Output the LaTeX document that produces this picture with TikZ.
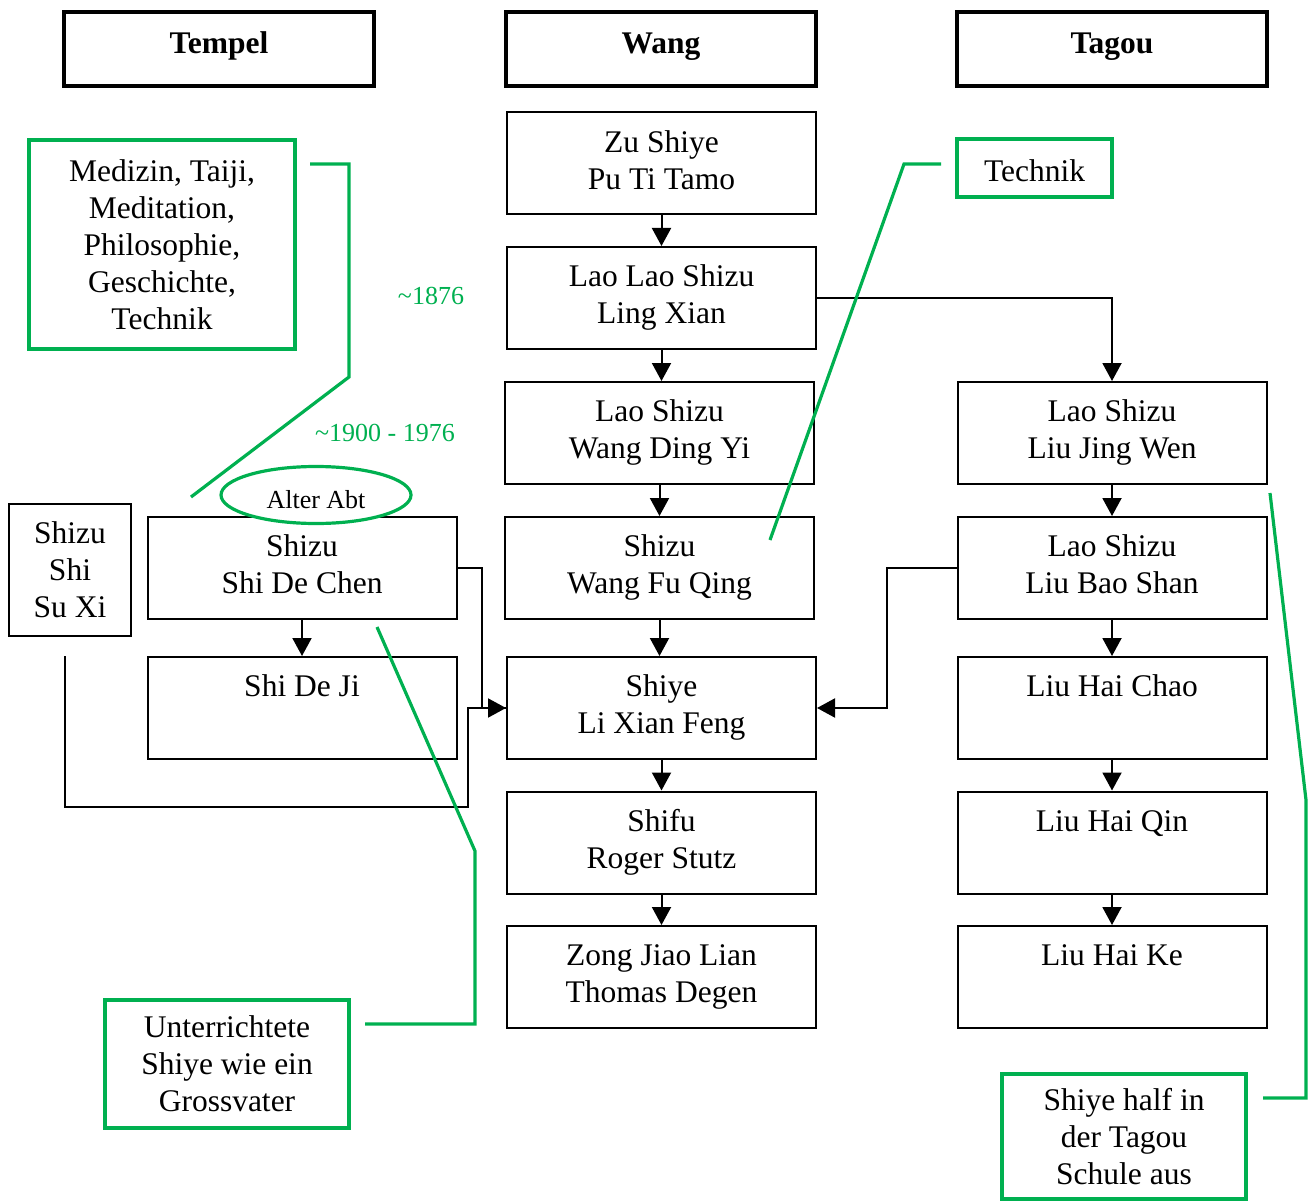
\documentclass[tikz,border=0pt]{standalone}
\usepackage{fontspec}
\setmainfont{Liberation Serif}
\usetikzlibrary{arrows.meta,shapes.geometric}
\definecolor{grn}{HTML}{00B050}
\newcommand{\bodyfont}{\fontsize{31.5}{37}\selectfont}
\newcommand{\smallfont}{\fontsize{26}{30}\selectfont}
\begin{document}
\begin{tikzpicture}[x=1pt,y=-1pt,
 box/.style={draw, line width=2pt, minimum width=309pt, minimum height=102pt, inner sep=0pt, align=center, font=\bodyfont},
 head/.style={draw, line width=3.5pt, minimum width=310pt, minimum height=74pt, inner sep=0pt, font=\bodyfont\bfseries, text height=23pt, text depth=13pt},
 gbox/.style={draw=grn, line width=3.2pt, inner sep=0pt, align=center, font=\bodyfont, fill=white},
 link/.style={line width=2pt, -{Triangle[length=18pt,width=19pt]}},
 plainline/.style={line width=2pt},
 gline/.style={draw=grn, line width=3.2pt},
 gtext/.style={text=grn, font=\smallfont, inner sep=0pt}]
\useasboundingbox (0,0) rectangle (1312,1201);

% headers
\node[head] (tempel) at (219,49) {Tempel};
\node[head] (wang) at (661,49) {Wang};
\node[head] (tagou) at (1112,49) {Tagou};

% Wang column
\node[box] (zu) at (661.5,163.5) {\strut Zu Shiye\\\strut Pu Ti Tamo};
\node[box] (laolao) at (661.5,298) {\strut Lao Lao Shizu\\\strut Ling Xian};
\node[box] (wdy) at (659.5,433) {\strut Lao Shizu\\\strut Wang Ding Yi};
\node[box] (wfq) at (659.5,568) {\strut Shizu\\\strut Wang Fu Qing};
\node[box] (lxf) at (661.5,708) {\strut Shiye\\\strut Li Xian Feng};
\node[box] (rs) at (661.5,842.5) {\strut Shifu\\\strut Roger Stutz};
\node[box] (tdg) at (661.5,977) {\strut Zong Jiao Lian\\\strut Thomas Degen};

% Tagou column
\node[box] (ljw) at (1112,433) {\strut Lao Shizu\\\strut Liu Jing Wen};
\node[box] (lbs) at (1112,568) {\strut Lao Shizu\\\strut Liu Bao Shan};
\node[box] (lhc) at (1112,708) {\strut Liu Hai Chao\\\strut};
\node[box] (lhq) at (1112,842.5) {\strut Liu Hai Qin\\\strut};
\node[box] (lhk) at (1112,977) {\strut Liu Hai Ke\\\strut};

% Tempel column
\node[box] (sdc) at (302,568) {\strut Shizu\\\strut Shi De Chen};
\node[box] (sdj) at (302,708) {\strut Shi De Ji\\\strut};
\node[box, minimum width=122pt, minimum height=132pt] (ssx) at (70,570) {Shizu\\Shi\\Su Xi};

% arrows Wang
\foreach \a/\b in {zu/laolao, laolao/wdy, wdy/wfq, wfq/lxf, lxf/rs, rs/tdg}
  \draw[link] (\a.south) -- (\a.south |- \b.north);
% arrows Tagou
\foreach \a/\b in {ljw/lbs, lbs/lhc, lhc/lhq, lhq/lhk}
  \draw[link] (\a.south) -- (\a.south |- \b.north);
\draw[link] (sdc.south) -- (sdc.south |- sdj.north);
\draw[link] (laolao.east) -| (ljw.north);
\draw[link] (lbs.west) -- ++(-70,0) |- (lxf.east);
\draw[link] (sdc.east) -- ++(24,0) |- (lxf.west);
\coordinate (sx1) at (65,656);
\coordinate (sx2) at (468,807);
\draw[plainline] (sx1) |- (sx2) |- (lxf.west);

% green annotations
\node[gbox, minimum width=266pt, minimum height=209pt] (med) at (162,244.5)
  {Medizin, Taiji,\\Meditation,\\Philosophie,\\Geschichte,\\Technik};
\coordinate (m1) at (310,164);
\coordinate (m2) at (349,164);
\coordinate (m3) at (349,377);
\coordinate (m4) at (191,497);
\draw[gline] (m1) -- (m2) -- (m3) -- (m4);

\node[gtext] (y1) at (431,296) {\textasciitilde1876};
\node[gtext] (y2) at (385,433) {\textasciitilde1900 - 1976};

\node[draw=grn, line width=3.2pt, fill=white, ellipse, minimum width=190pt, minimum height=57pt, inner sep=0pt, font=\smallfont, text height=28pt, text depth=0.4pt] (abt) at (316,495) {Alter Abt};

\node[gbox, minimum width=155pt, minimum height=58pt, text height=28pt, text depth=0.6pt] (tech) at (1034.5,168) {Technik};
\coordinate (t1) at (941,164);
\coordinate (t2) at (904,164);
\coordinate (t3) at (770,540);
\draw[gline] (t1) -- (t2) -- (t3);

\node[gbox, minimum width=244pt, minimum height=128pt] (unt) at (227,1064)
  {Unterrichtete\\Shiye wie ein\\Grossvater};
\coordinate (u1) at (365,1024);
\coordinate (u2) at (475,1024);
\coordinate (u3) at (475,851);
\coordinate (u4) at (377,627);
\draw[gline] (u1) -- (u2) -- (u3) -- (u4);

\node[gbox, minimum width=244pt, minimum height=125pt] (half) at (1124,1136.5)
  {Shiye half in\\der Tagou\\Schule aus};
\coordinate (h1) at (1263,1098);
\coordinate (h2) at (1306,1098);
\coordinate (h3) at (1306,800);
\coordinate (h4) at (1270,493);
\draw[gline] (h1) -- (h2) -- (h3) -- (h4);
\end{tikzpicture}
\end{document}
